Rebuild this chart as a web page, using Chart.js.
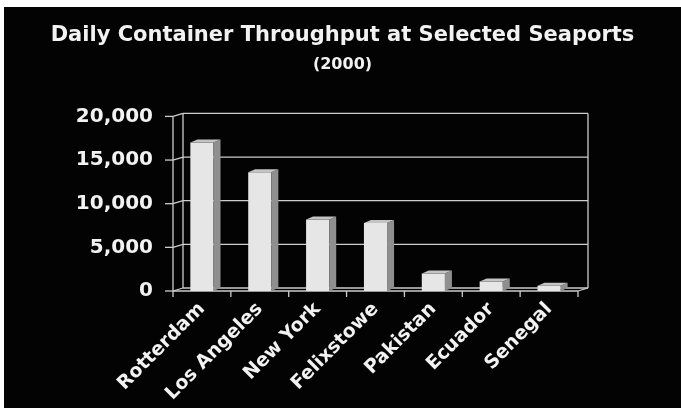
<!DOCTYPE html>
<html>
<head>
<meta charset="utf-8">
<script src="https://cdn.jsdelivr.net/npm/chart.js@4.4.1/dist/chart.umd.min.js"></script>
<style>
   html, body { margin: 0; padding: 0; background: #fff; }
   #wrap { position: absolute; left: 4px; top: 7px; width: 677px; height: 401px; background: #030303; }
</style>
</head>
<body>
<div id="wrap"><canvas id="portChart" width="677" height="401"></canvas></div>
<script>
let ports = ["Rotterdam", "Los Angeles", "New York", "Felixstowe", "Pakistan", "Ecuador", "Senegal"];
let containersPerDay = [17000, 13600, 8200, 7800, 2000, 1100, 600];
let yTicks = [0, 5000, 10000, 15000, 20000];

const textColor = "#f2f2f2";
const lineColor = "#cdcdcd";
const fontFamily = "'DejaVu Sans'";
const wallX = 10, wallY = 3;   // depth of the back wall
const barX = 7, barY = 3;      // depth of each bar

function line(ctx, x1, y1, x2, y2) {
   ctx.beginPath();
   ctx.moveTo(x1, y1);
   ctx.lineTo(x2, y2);
   ctx.stroke();
}

// walls, floor and gridlines behind the bars, then the side and top of each bar
const box3d = {
   id: "box3d",
   beforeDatasetsDraw(chart) {
      const {ctx, chartArea: a, scales: {x, y}} = chart;
      ctx.save();
      ctx.strokeStyle = lineColor;
      ctx.lineWidth = 1.3;
      line(ctx, a.left, a.top, a.left, a.bottom);
      line(ctx, a.left + wallX, a.top - wallY, a.left + wallX, a.bottom - wallY);
      line(ctx, a.right + wallX, a.top - wallY, a.right + wallX, a.bottom - wallY);
      line(ctx, a.left, a.bottom, a.right, a.bottom);
      line(ctx, a.right, a.bottom, a.right + wallX, a.bottom - wallY);
      yTicks.forEach(v => {
         const py = y.getPixelForValue(v);
         line(ctx, a.left - 8, py, a.left, py);
         line(ctx, a.left, py, a.left + wallX, py - wallY);
         line(ctx, a.left + wallX, py - wallY, a.right + wallX, py - wallY);
      });
      for (let i = 0; i <= ports.length; i++) {
         const px = x.getPixelForValue(i - 0.5);
         line(ctx, px, a.bottom, px, a.bottom + 6);
      }
      ctx.restore();
   },
   afterDatasetsDraw(chart) {
      const ctx = chart.ctx;
      ctx.save();
      chart.getDatasetMeta(0).data.forEach(bar => {
         const {x, y, base, width} = bar.getProps(["x", "y", "base", "width"], true);
         const l = x - width / 2, r = x + width / 2;
         ctx.fillStyle = "#8f8f8f";
         ctx.beginPath();
         ctx.moveTo(r, y);
         ctx.lineTo(r + barX, y - barY);
         ctx.lineTo(r + barX, base - barY);
         ctx.lineTo(r, base);
         ctx.closePath();
         ctx.fill();
         ctx.fillStyle = "#c4c4c4";
         ctx.beginPath();
         ctx.moveTo(l, y);
         ctx.lineTo(l + barX, y - barY);
         ctx.lineTo(r + barX, y - barY);
         ctx.lineTo(r, y);
         ctx.closePath();
         ctx.fill();
      });
      ctx.restore();
   },
};

const chart = new Chart(document.getElementById("portChart"), {
   type: "bar",
   data: {
      labels: ports,
      datasets: [
         {
            label: "Containers per day",
            data: containersPerDay,
            backgroundColor: "#e6e6e6",
            borderWidth: 0,
            barPercentage: 0.4,
            categoryPercentage: 1,
         },
      ],
   },
   options: {
      responsive: false,
      animation: false,
      layout: {
         padding: 0,
      },
      scales: {
         x: {
            grid: {display: false, drawTicks: false},
            border: {display: false},
            ticks: {
               color: textColor,
               font: {family: fontFamily, size: 19, weight: "bold"},
               minRotation: 45,
               maxRotation: 45,
               padding: 7,
            },
            afterFit(scale) {
               scale.height = 117;
            },
         },
         y: {
            min: 0,
            max: 20000,
            grid: {display: false, drawTicks: false},
            border: {display: false},
            afterBuildTicks(scale) {
               scale.ticks = yTicks.map(v => ({value: v}));
            },
            ticks: {
               color: textColor,
               font: {family: fontFamily, size: 20, weight: "bold"},
               padding: 20,
               callback: v => v.toLocaleString("en-US"),
            },
            afterFit(scale) {
               scale.width = 169;
            },
         },
         // empty strip on the right so the plot ends short of the frame
         spacer: {
            type: "linear",
            position: "right",
            grid: {display: false, drawTicks: false},
            border: {display: false},
            ticks: {display: false},
            afterFit(scale) {
               scale.width = 103;
            },
         },
      },
      plugins: {
         legend: {display: false},
         tooltip: {enabled: false},
         title: {
            display: true,
            text: "Daily Container Throughput at Selected Seaports",
            color: textColor,
            font: {family: fontFamily, size: 21, weight: "bold", lineHeight: 1.2},
            padding: {top: 16, bottom: 4},
         },
         subtitle: {
            display: true,
            text: "(2000)",
            color: textColor,
            font: {family: fontFamily, size: 16, weight: "bold", lineHeight: 1.2},
            padding: {top: 3, bottom: 42},
         },
      },
   },
   plugins: [box3d],
});
</script>
</body>
</html>
